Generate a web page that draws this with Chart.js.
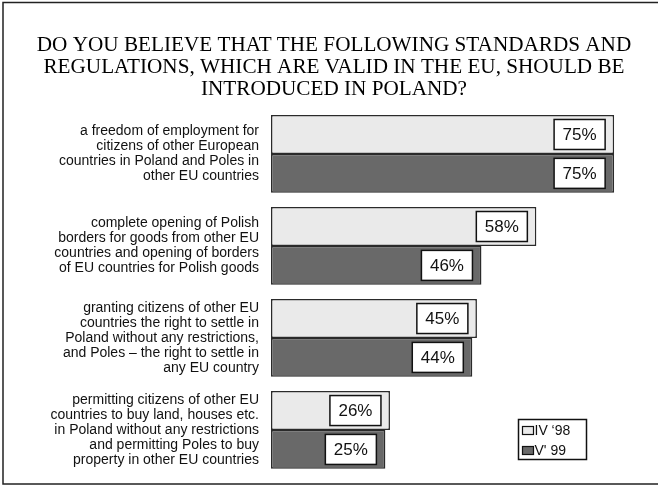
<!DOCTYPE html>
<html>
<head>
<meta charset="utf-8">
<script src="https://cdn.jsdelivr.net/npm/chart.js@4"></script>
<style>
  body { margin: 0; background: #fff; }
  #wrap { width: 658px; height: 486px; }
</style>
</head>
<body>
<div id="wrap"><canvas id="euChart" width="658" height="486"></canvas></div>
<script>
const titleLines = [
    'DO YOU BELIEVE THAT THE FOLLOWING STANDARDS AND',
    'REGULATIONS, WHICH ARE VALID IN THE EU, SHOULD BE',
    'INTRODUCED IN POLAND?'
];

const categories = [
    ['a freedom of employment for', 'citizens of other European', 'countries in Poland and Poles in', 'other EU countries'],
    ['complete opening of Polish', 'borders for goods from other EU', 'countries and opening of borders', 'of EU countries for Polish goods'],
    ['granting citizens of other EU', 'countries the right to settle in', 'Poland without any restrictions,', 'and Poles \u2013 the right to settle in', 'any EU country'],
    ['permitting citizens of other EU', 'countries to buy land, houses etc.', 'in Poland without any restrictions', 'and permitting Poles to buy', 'property in other EU countries']
];

const seriesNames = ['IV \u201898', "V' 99"];
const valuesApr98 = [75, 58, 45, 26];
const valuesMay99 = [75, 46, 44, 25];

const sansFont = 'Arial, "Liberation Sans", sans-serif';

// thin frame around the whole figure (right side runs off the canvas)
const framePlugin = {
    id: 'frame',
    beforeDraw(chart) {
        const ctx = chart.ctx;
        ctx.save();
        ctx.fillStyle = '#fff';
        ctx.fillRect(0, 0, chart.width, chart.height);
        ctx.strokeStyle = '#222';
        ctx.lineWidth = 1.5;
        ctx.strokeRect(3, 2.5, chart.width + 10, 481.5);
        ctx.restore();
    }
};

// white boxed percentage near the end of each bar
const valueBoxes = {
    id: 'valueBoxes',
    afterDatasetsDraw(chart) {
        const ctx = chart.ctx;
        ctx.save();
        ctx.font = '17px ' + sansFont;
        ctx.textAlign = 'center';
        ctx.textBaseline = 'middle';
        chart.data.datasets.forEach((ds, di) => {
            chart.getDatasetMeta(di).data.forEach((bar, i) => {
                const txt = ds.data[i] + '%';
                const w = ctx.measureText(txt).width + 17;
                const h = 30;
                const right = bar.x - 9;
                const top = bar.y - h / 2;
                ctx.fillStyle = '#fff';
                ctx.fillRect(right - w, top, w, h);
                ctx.strokeStyle = '#111';
                ctx.lineWidth = 1.5;
                ctx.strokeRect(right - w, top, w, h);
                ctx.fillStyle = '#111';
                ctx.fillText(txt, right - w / 2, bar.y + 1);
            });
        });
        ctx.restore();
    }
};

// small boxed legend in the lower right
const boxLegend = {
    id: 'boxLegend',
    afterDraw(chart) {
        const ctx = chart.ctx;
        const left = 518.5, top = 419.5;
        ctx.save();
        ctx.fillStyle = '#fff';
        ctx.fillRect(left, top, 68, 40);
        ctx.strokeStyle = '#111';
        ctx.lineWidth = 1.5;
        ctx.strokeRect(left, top, 68, 40);
        ctx.font = '14px ' + sansFont;
        ctx.textBaseline = 'middle';
        ctx.textAlign = 'left';
        chart.data.datasets.forEach((ds, i) => {
            const y = top + 11 + i * 20;
            ctx.fillStyle = ds.backgroundColor;
            ctx.fillRect(left + 4, y - 4, 11, 8);
            ctx.lineWidth = 1.2;
            ctx.strokeStyle = '#111';
            ctx.strokeRect(left + 4, y - 4, 11, 8);
            ctx.fillStyle = '#111';
            ctx.fillText(ds.label, left + 16, y + 1);
        });
        ctx.restore();
    }
};

const ctx = document.getElementById('euChart').getContext('2d');
const chart = new Chart(ctx, {
    type: 'bar',
    data: {
        labels: categories,
        datasets: [
            {
                label: seriesNames[0],
                data: valuesApr98,
                backgroundColor: '#eaeaea',
                borderColor: '#2a2a2a',
                borderWidth: 1.5,
                borderSkipped: false,
                barPercentage: 1,
                categoryPercentage: 0.845
            },
            {
                label: seriesNames[1],
                data: valuesMay99,
                backgroundColor: '#696969',
                borderColor: '#2a2a2a',
                borderWidth: 1.5,
                borderSkipped: false,
                barPercentage: 1,
                categoryPercentage: 0.845
            }
        ]
    },
    options: {
        indexAxis: 'y',
        responsive: false,
        animation: false,
        devicePixelRatio: 1,
        layout: { padding: { top: 34, left: 31, right: 21, bottom: 10 } },
        plugins: {
            legend: { display: false },
            tooltip: { enabled: false },
            title: {
                display: true,
                text: titleLines,
                color: '#000',
                font: { family: '"Liberation Serif", "Times New Roman", serif', size: 21.2, weight: 'normal', lineHeight: 1.052 },
                padding: { top: 0, bottom: 7 }
            }
        },
        scales: {
            x: { display: false, min: 0, max: 80 },
            y: {
                grid: { display: false, drawTicks: false },
                border: { display: false },
                ticks: {
                    color: '#111',
                    padding: 12,
                    font: { family: sansFont, size: 14, lineHeight: 1.07 }
                },
                afterFit(scale) {
                    // fixed label column; long labels may spill past the padding
                    scale.width = 240;
                    scale.paddingTop = 0;
                    scale.paddingBottom = 0;
                }
            }
        }
    },
    plugins: [framePlugin, valueBoxes, boxLegend]
});
</script>
</body>
</html>
